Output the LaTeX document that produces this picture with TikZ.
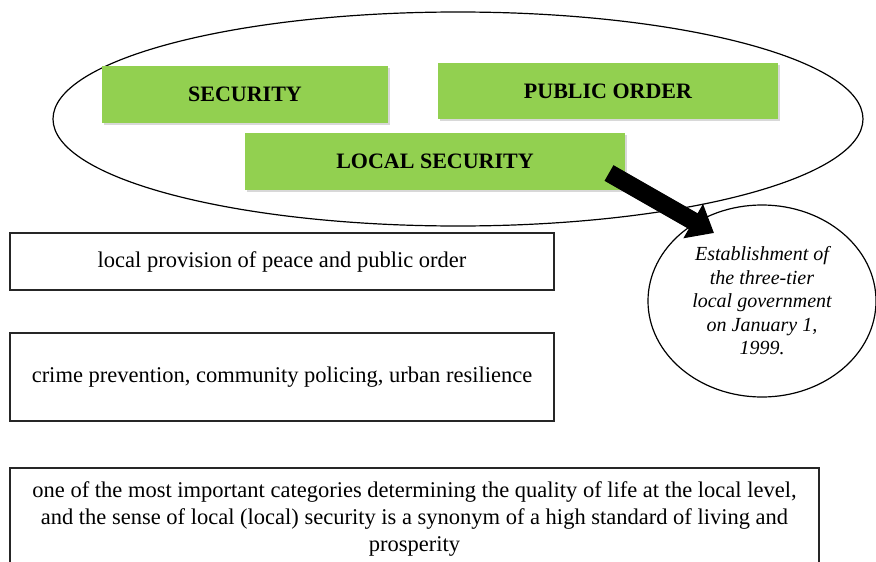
\documentclass[tikz,border=0pt]{standalone}
\usepackage{fontspec}
\setmainfont{Liberation Serif}
\usetikzlibrary{shapes.geometric,arrows.meta,shadows}
\definecolor{grn}{RGB}{146,208,80}
\begin{document}
\begin{tikzpicture}[x=1pt,y=-1pt,
  greenbox/.style={rectangle,fill=grn,draw=none,inner sep=0pt,
    font=\fontsize{22}{26}\selectfont\bfseries,
    drop shadow={shadow xshift=1.5pt,shadow yshift=-2pt,opacity=0.3}},
  textbox/.style={rectangle,draw=black!85,line width=1.3pt,inner sep=0pt,
    align=center,font=\fontsize{22.5}{27}\selectfont},
  oval/.style={ellipse,draw=black,line width=1.2pt,inner sep=0pt},
  bigarrow/.style={line width=18pt,-{Triangle[length=24pt,width=38pt]}}]
\clip (0,0) rectangle (876,562);
\fill[white] (0,0) rectangle (876,562);

\node[oval,minimum width=810pt,minimum height=214pt] (outer) at (458,119) {};

\node[greenbox,minimum width=286pt,minimum height=57pt] (sec) at (245,94.5) {SECURITY};
\node[greenbox,minimum width=340pt,minimum height=56pt] (pub) at (608,91) {PUBLIC ORDER};
\node[greenbox,minimum width=380pt,minimum height=57pt] (loc) at (435,161.5) {LOCAL SECURITY};

\node[textbox,minimum width=544pt,minimum height=57pt] (b1) at (282,261.5)
  {local provision of peace and public order};
\node[textbox,minimum width=544pt,minimum height=88pt] (b2) at (282,377)
  {crime prevention, community policing, urban resilience};
\node[textbox,minimum width=809pt,minimum height=103pt] (b3) at (414.5,519.5)
  {one of the most important categories determining the quality of life at the local level,\\
   and the sense of local (local) security is a synonym of a high standard of living and\\
   prosperity};

\node[oval,minimum width=228pt,minimum height=192pt,align=center,
  font=\fontsize{20}{23.5}\selectfont\itshape] (est) at (762,301)
  {Establishment of\\the three-tier\\local government\\on January 1,\\1999.};

\coordinate (atail) at (609,173);
\coordinate (atip) at (714,233);
\draw[bigarrow] (atail) -- (atip);
\end{tikzpicture}
\end{document}
